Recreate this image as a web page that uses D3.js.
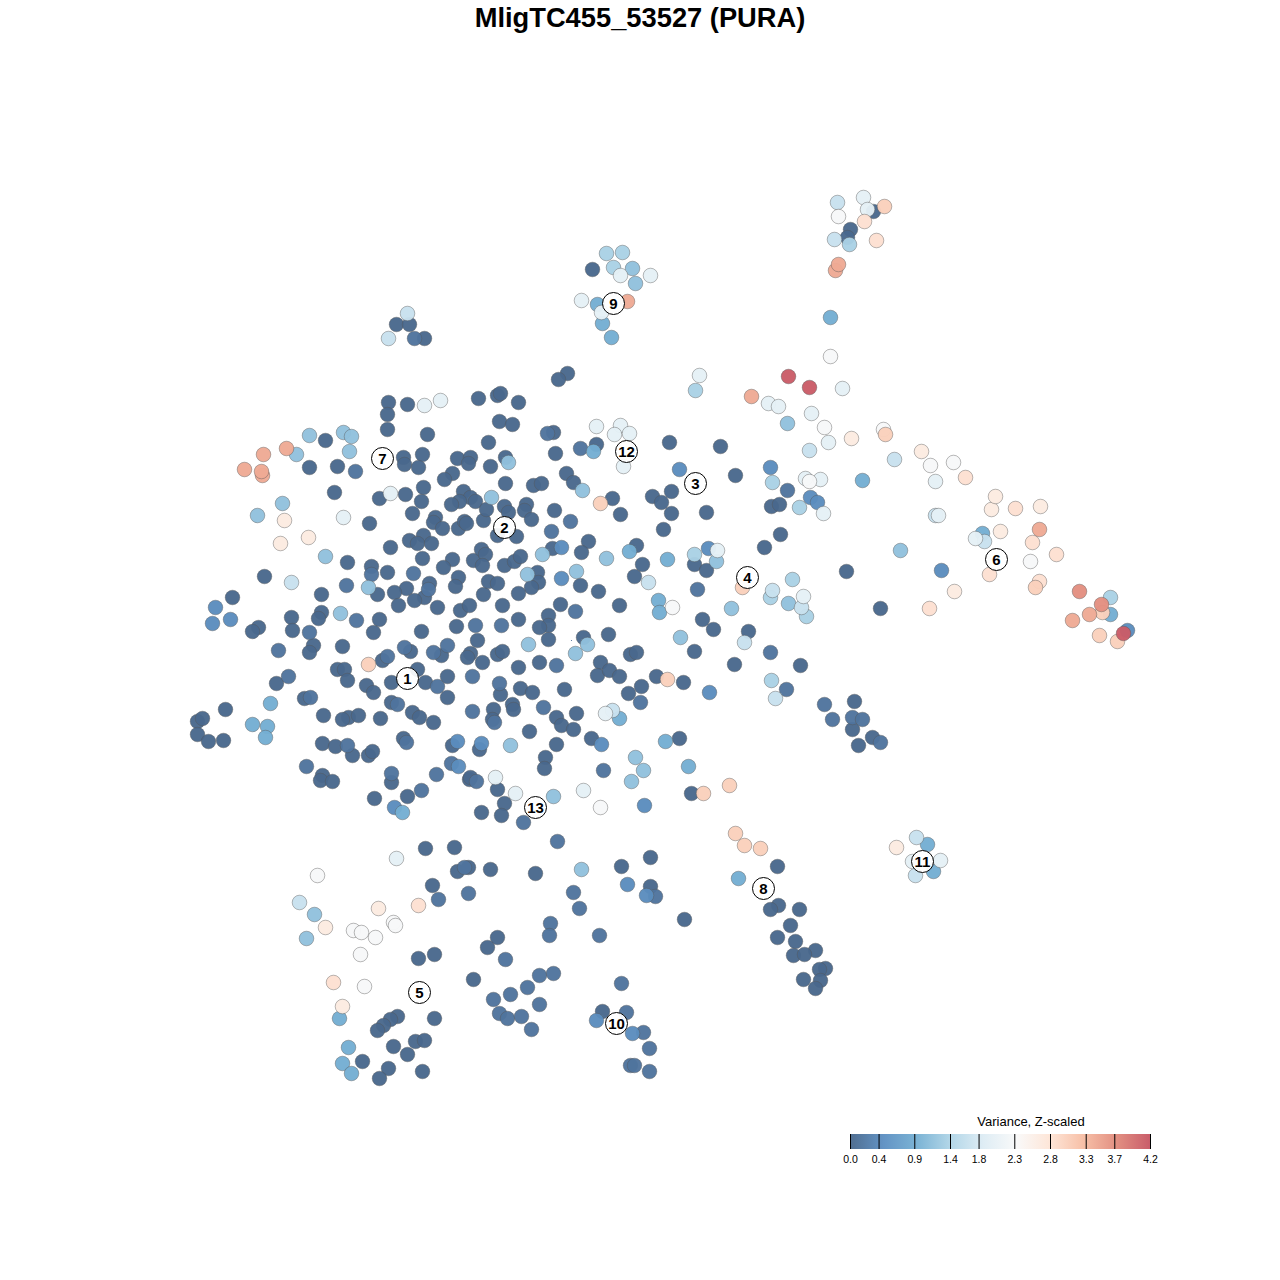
<!DOCTYPE html>
<html><head><meta charset="utf-8">
<script src="https://cdnjs.cloudflare.com/ajax/libs/d3/7.8.5/d3.min.js"></script>
<style>html,body{margin:0;padding:0;background:#fff}svg{display:block}text{font-family:"Liberation Sans",Arial,sans-serif}</style>
</head><body><svg id="c" width="1280" height="1280"></svg>
<script>
const chartTitle = "MligTC455_53527 (PURA)";
const legendTitle = "Variance, Z-scaled";
const paletteColors = ["#053061","#2166AC","#4393C3","#92C5DE","#D1E5F0","#F7F7F7","#FDDBC7","#F4A582","#D6604D","#B2182B"];
const paletteStops = [0,0.4667,0.9333,1.4,1.8667,2.3333,2.8,3.2667,3.7333,4.2];
const legendTicks = [0,0.4,0.9,1.4,1.8,2.3,2.8,3.3,3.7,4.2];
const legendLabels = ["0.0","0.4","0.9","1.4","1.8","2.3","2.8","3.3","3.7","4.2"];
const clusterIds = [1,2,3,4,5,6,7,8,9,10,11,12,13];
const clusterX = [407,504,695,747,419,996,382,763,613,616,922,626,535];
const clusterY = [678,527,483,577,992,559,458,888,303,1023,861,451,807];

const level000 = [[388,402],[407,404],[387,414],[387,429],[427,434],[325,440],[309,467],[337,466],[403,457],[404,464],[422,454],[418,467],[457,458],[470,457],[468,463],[452,473],[444,479],[334,492],[379,498],[405,494],[423,487],[421,501],[412,513],[463,491],[470,497],[459,501],[451,504],[475,501],[435,517],[433,522],[442,528],[458,528],[464,521],[466,523],[369,523],[483,520],[390,547],[409,540],[423,535],[417,543],[431,543],[422,558],[452,559],[443,567],[473,560],[481,549],[347,562],[371,566],[387,572],[264,576],[458,577],[455,586],[429,583],[406,588],[394,592],[377,594],[321,594],[424,597],[414,600],[398,605],[437,607],[460,610],[469,605],[483,594],[232,597],[321,612],[318,618],[291,617],[379,619],[258,627],[252,631],[292,630],[373,632],[421,631],[456,626],[477,640],[342,646],[313,645],[309,652],[410,651],[441,655],[382,660],[470,653],[467,657],[337,669],[344,669],[347,680],[276,683],[366,685],[373,692],[391,682],[417,669],[425,682],[447,676],[447,697],[482,662],[391,702],[304,698],[225,709],[323,715],[348,717],[342,719],[358,715],[380,718],[412,712],[419,717],[433,722],[197,721],[202,718],[197,734],[208,741],[223,740],[403,738],[322,743],[335,746],[352,755],[368,755],[372,751],[452,745],[479,749],[322,775],[320,780],[332,781],[391,782],[469,779],[374,798],[407,796],[425,848],[454,847],[457,871],[432,885],
[567,373],[558,379],[478,398],[497,395],[500,393],[518,402],[499,421],[512,424],[488,442],[553,432],[555,453],[596,444],[505,457],[490,466],[505,483],[533,485],[541,483],[566,473],[573,482],[612,498],[620,514],[486,509],[504,506],[508,512],[526,504],[524,510],[531,519],[554,510],[516,536],[497,535],[588,541],[552,548],[581,552],[485,554],[482,565],[504,565],[514,561],[520,556],[636,545],[642,564],[634,576],[537,572],[538,582],[531,587],[580,585],[598,591],[488,581],[497,583],[518,593],[502,605],[560,604],[619,605],[518,619],[548,615],[548,625],[539,627],[548,639],[583,637],[608,634],[497,654],[502,651],[630,654],[636,652],[539,662],[518,667],[600,662],
[669,442],[720,446],[735,475],[652,496],[671,491],[661,502],[671,513],[706,512],[663,529],[764,547],[694,564],[706,570],[702,619],[713,629],[748,631],[694,651],[734,664],[597,675],[609,670],[619,676],[656,676],[683,682],[641,686],[628,693],[500,694],[520,688],[532,692],[564,689],[512,704],[513,709],[493,709],[492,719],[556,717],[561,725],[576,713],[573,729],[529,731],[591,738],[679,738],[556,744],[545,757],[544,768],[497,789],[470,777],[691,793],[504,803],[481,812],[501,815],[650,857],[621,866],[490,869],[535,873],[650,886],[684,919],[497,937],[468,867],
[418,958],[434,954],[487,947],[473,979],[434,1018],[397,1016],[390,1019],[383,1025],[377,1030],[393,1046],[415,1041],[424,1040],[407,1054],[362,1061],[388,1068],[379,1078],[422,1071],[602,1011],
[777,866],[778,905],[770,909],[799,909],[790,925],[777,937],[795,941],[815,950],[793,955],[804,954],[825,968],[819,969],[803,979],[820,980],[815,988],
[854,701],[852,729],[858,745],[872,737],[800,665],[771,506],[779,504],[780,534],[846,571],[880,608],[873,211],[850,229],[847,237],[592,269],[396,324],[409,324],[424,338]];
const level015 = [[355,471],[413,573],[371,574],[346,585],[428,589],[356,620],[309,632],[278,650],[404,647],[433,652],[447,645],[387,656],[475,625],[472,676],[288,676],[437,686],[397,704],[310,697],[472,711],[406,742],[347,745],[306,766],[391,773],[436,774],[451,763],[476,781],[421,790],[464,867],[438,899],[468,893],
[547,433],[580,448],[570,521],[551,531],[575,611],[501,625],[556,665],[697,589],[770,652],[499,683],[543,707],[494,722],[640,702],[603,770],[523,822],[557,841],[573,892],[579,908],[550,923],[549,935],[599,935],
[505,959],[527,987],[539,975],[553,973],[493,999],[510,994],[539,1004],[499,1013],[507,1018],[521,1016],[531,1029],[621,983],[626,1012],[643,1032],[649,1048],[630,1065],[634,1065],[649,1071],[655,896],
[824,704],[832,719],[852,717],[862,719],[880,742],[786,689],[787,490],[414,338]];
const level042 = [[215,607],[212,623],[230,619],[457,741],[394,807],[458,766],[561,547],[561,578],[679,469],[708,548],[709,692],[601,744],[481,743],[644,805],[627,884],[646,895],[596,1020],[632,1033],[770,467],[810,497],[817,502],[941,570],[1127,630]];
const level090 = [[402,812],[270,703],[252,724],[267,726],[265,737],[593,451],[629,551],[667,559],[658,600],[659,612],[619,718],[665,741],[688,766],[348,1047],[342,1063],[351,1073],[339,1018],[738,878],[927,844],[933,871],[830,317],[862,480],[597,304],[602,323],[611,337],[982,533],[1110,614]];
const level115 = [[309,435],[343,432],[351,436],[296,454],[349,451],[282,503],[257,515],[325,556],[368,587],[340,613],[508,462],[491,497],[582,490],[542,554],[606,558],[576,571],[527,574],[587,644],[528,644],[575,653],[716,561],[731,608],[680,637],[510,745],[635,757],[643,770],[631,781],[553,796],[581,869],[306,938],[314,914],[900,550],[787,423],[788,603],[632,268],[635,283]];
const level135 = [[695,390],[694,554],[772,482],[799,507],[792,579],[770,597],[806,616],[771,680],[606,253],[622,252],[613,267],[1110,597],[849,244]];
const level165 = [[291,582],[648,582],[744,642],[612,710],[299,902],[772,590],[775,698],[809,450],[916,837],[915,875],[984,541],[935,515],[834,239],[388,338],[407,313],[801,607],[894,459],[837,202]];
const level200 = [[390,493],[343,517],[424,405],[440,400],[396,858],[699,375],[768,403],[778,406],[596,426],[620,425],[614,434],[629,433],[623,466],[717,550],[605,713],[495,777],[515,793],[583,790],[811,413],[842,388],[805,478],[820,479],[803,596],[975,538],[938,515],[912,861],[940,860],[620,275],[650,275],[581,300],[601,312],[863,197],[867,209],[828,442],[823,513],[935,481]];
const level230 = [[317,875],[353,930],[361,932],[375,937],[393,922],[395,925],[360,954],[364,986],[672,607],[600,807],[830,356],[824,427],[809,481],[883,429],[953,462],[1030,561],[838,216],[930,465]];
const level265 = [[284,520],[308,537],[280,543],[378,908],[325,927],[342,1006],[896,847],[851,438],[921,451],[991,509],[995,496],[1000,531],[1040,506],[954,591]];
const level285 = [[418,905],[333,982],[929,608],[989,574],[1039,581],[1032,542],[1056,554],[1015,508],[965,477],[864,221],[876,240]];
const level305 = [[368,664],[667,679],[703,793],[729,785],[735,833],[744,845],[760,848],[742,587],[600,503],[885,434],[1035,587],[1102,612],[1117,641],[1099,635],[884,206]];
const level345 = [[263,454],[286,448],[244,469],[262,475],[261,471],[751,396],[627,301],[1039,529],[1089,614],[1072,620],[835,270],[838,264]];
const level370 = [[1079,591],[1101,604]];
const level415 = [[788,376],[809,387],[1123,633]];

const bandValues = [0,0.15,0.42,0.9,1.15,1.35,1.65,2.0,2.3,2.65,2.85,3.05,3.45,3.7,4.15];
const bandPoints = [level000,level015,level042,level090,level115,level135,level165,level200,level230,level265,level285,level305,level345,level370,level415];

const x = d3.scaleLinear().domain([0,1280]).range([0.5,1280.5]);
const y = d3.scaleLinear().domain([0,1280]).range([0.5,1280.5]);
const color = d3.scaleLinear().domain(paletteStops).range(paletteColors);
const legendX = d3.scaleLinear().domain([0,4.2]).range([850,1150]);

const svg = d3.select("#c");
svg.append("rect").attr("width",1280).attr("height",1280).attr("fill","#fff");
svg.append("text").attr("x",640).attr("y",27).attr("text-anchor","middle")
  .attr("font-size",27.3).attr("font-weight","bold").text(chartTitle);

const cells = bandValues.flatMap((v,i)=>bandPoints[i].map(p=>({x:p[0],y:p[1],v})));
svg.append("g").selectAll("circle").data(cells).join("circle")
  .attr("cx",d=>x(d.x)).attr("cy",d=>y(d.y)).attr("r",7.3)
  .attr("fill",d=>d3.interpolateRgb("#ffffff",color(d.v))(0.73)).attr("fill-opacity",0.96)
  .attr("stroke","#555").attr("stroke-opacity",0.42).attr("stroke-width",1);
svg.append("circle").attr("cx",x(571)).attr("cy",y(640)).attr("r",0.6).attr("fill","#4d6d96");

const lab = svg.append("g").selectAll("g").data(clusterIds).join("g")
  .attr("transform",(d,i)=>`translate(${x(clusterX[i])},${y(clusterY[i])})`);
lab.append("circle").attr("r",11).attr("fill","#fff").attr("fill-opacity",0.92)
  .attr("stroke","#000").attr("stroke-width",1);
lab.append("text").attr("text-anchor","middle").attr("dy","0.36em")
  .attr("font-size",15).attr("font-weight","bold").text(d=>d);

const defs = svg.append("defs");
const grad = defs.append("linearGradient").attr("id","lg");
paletteStops.forEach(v=>grad.append("stop").attr("offset",v/4.2).attr("stop-color",color(v)));
svg.append("text").attr("x",1031).attr("y",1126).attr("text-anchor","middle").attr("font-size",13).text(legendTitle);
svg.append("rect").attr("x",legendX(0)).attr("y",1134).attr("width",legendX(4.2)-legendX(0)).attr("height",15)
  .attr("fill","url(#lg)").attr("fill-opacity",0.7);
const axis = d3.axisBottom(legendX).tickValues(legendTicks).tickSize(-15).tickPadding(7)
  .tickFormat((d,i)=>legendLabels[i]);
const ag = svg.append("g").attr("transform","translate(0,1149)").call(axis);
ag.select(".domain").remove();
ag.selectAll(".tick line").attr("stroke","#000");
ag.selectAll(".tick text").attr("font-size",10.5).attr("font-family","'Liberation Sans',Arial,sans-serif").attr("fill","#000");
</script></body></html>
